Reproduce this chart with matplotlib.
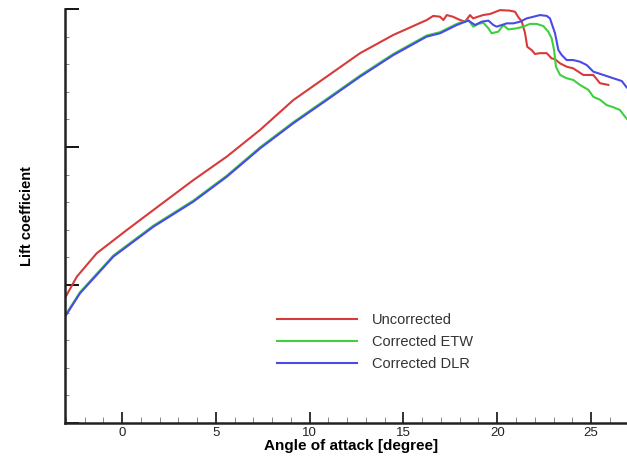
import matplotlib
matplotlib.use("Agg")
import matplotlib.pyplot as plt
from matplotlib.ticker import MultipleLocator, NullFormatter

plt.rcParams['font.family'] = ['Liberation Sans', 'DejaVu Sans']

# Uncorrected
aoa_unc = [-3.04, -2.41, -1.35, 0.25, 2.03, 3.80, 5.58, 7.36, 9.13, 10.91, 12.69, 14.46,
           16.24, 16.59, 16.95, 17.13, 17.31, 17.64, 18.02, 18.28, 18.55, 18.71, 19.24,
           19.62, 20.15, 20.68, 20.95, 21.11, 21.31, 21.48, 21.60, 21.84, 22.01, 22.28,
           22.64, 22.90, 23.08, 23.35, 23.70, 24.05, 24.59, 25.12, 25.48, 25.92]
cl_unc = [0.453, 0.530, 0.615, 0.699, 0.790, 0.880, 0.965, 1.062, 1.170, 1.255, 1.340, 1.406,
          1.460, 1.475, 1.472, 1.460, 1.478, 1.472, 1.460, 1.454, 1.478, 1.466, 1.478,
          1.482, 1.496, 1.494, 1.490, 1.472, 1.454, 1.413, 1.363, 1.351, 1.337, 1.340,
          1.340, 1.321, 1.318, 1.303, 1.291, 1.285, 1.261, 1.261, 1.231, 1.225]

# Corrected DLR
aoa_dlr = [-3.04, -2.24, -0.46, 1.67, 3.80, 5.58, 7.36, 9.13, 10.91, 12.69, 14.46, 16.24,
           16.95, 17.84, 18.46, 18.82, 19.17, 19.53, 19.79, 19.97, 20.24, 20.51, 20.86,
           21.22, 21.57, 21.93, 22.28, 22.64, 22.81, 23.08, 23.26, 23.44, 23.70, 24.05,
           24.41, 24.77, 25.12, 25.66, 26.19, 26.64, 26.90]
cl_dlr = [0.385, 0.470, 0.603, 0.711, 0.802, 0.892, 0.995, 1.086, 1.170, 1.255, 1.333, 1.400,
          1.412, 1.442, 1.458, 1.442, 1.454, 1.458, 1.442, 1.436, 1.442, 1.448, 1.448,
          1.454, 1.466, 1.472, 1.478, 1.475, 1.466, 1.412, 1.351, 1.333, 1.315, 1.315,
          1.309, 1.297, 1.273, 1.261, 1.249, 1.239, 1.216]

# Corrected ETW
aoa_etw = [-3.04, -2.24, -0.46, 1.67, 3.80, 5.58, 7.36, 9.13, 10.91, 12.69, 14.46, 16.24,
           16.95, 17.84, 18.46, 18.72, 18.99, 19.26, 19.53, 19.70, 20.06, 20.32, 20.59,
           21.04, 21.39, 21.75, 22.10, 22.46, 22.72, 22.90, 23.03, 23.13, 23.35, 23.70,
           24.05, 24.41, 24.86, 25.12, 25.48, 25.83, 26.19, 26.54, 26.81, 27.2]
cl_etw = [0.389, 0.474, 0.607, 0.715, 0.806, 0.896, 0.999, 1.090, 1.174, 1.259, 1.337, 1.404,
          1.416, 1.446, 1.460, 1.436, 1.446, 1.450, 1.430, 1.412, 1.418, 1.442, 1.426,
          1.430, 1.436, 1.446, 1.446, 1.438, 1.418, 1.394, 1.351, 1.291, 1.261, 1.249,
          1.243, 1.225, 1.207, 1.182, 1.171, 1.152, 1.144, 1.134, 1.110, 1.08]

xticks = [0, 5, 10, 15, 20, 25]
labels = ['Uncorrected', 'Corrected ETW', 'Corrected DLR']
colors = ['#d83a3a', '#3fcf3f', '#4a4ae6']

W, H = 627, 459
fig = plt.figure(figsize=(W / 100, H / 100), dpi=100)
ax_l, ax_r, ax_t, ax_b = 65, 637, 9, 423
ax = fig.add_axes([ax_l / W, (H - ax_b) / H, (ax_r - ax_l) / W, (ax_b - ax_t) / H])

ax.plot(aoa_unc, cl_unc, color=colors[0], lw=1.5, label=labels[0])
ax.plot(aoa_etw, cl_etw, color=colors[1], lw=1.5, label=labels[1])
ax.plot(aoa_dlr, cl_dlr, color=colors[2], lw=1.5, label=labels[2])

ax.set_xlim(-3.04, 27.45)
ax.set_ylim(0, 1.5)
ax.set_xticks(xticks)
ax.xaxis.set_minor_locator(MultipleLocator(1))
ax.yaxis.set_major_locator(MultipleLocator(0.5))
ax.yaxis.set_minor_locator(MultipleLocator(0.1))
ax.yaxis.set_major_formatter(NullFormatter())
ax.tick_params(axis='x', which='major', direction='in', length=8, width=1.3,
               labelsize=9.5, pad=3, colors='#222222')
ax.tick_params(axis='x', which='minor', direction='in', length=4, width=0.7, color='#888888')
ax.tick_params(axis='y', which='major', direction='in', length=10, width=1.3)
ax.tick_params(axis='y', which='minor', direction='in', length=3, width=0.7, color='#888888')
for s in ['top', 'right']:
    ax.spines[s].set_visible(False)
for s in ['left', 'bottom']:
    ax.spines[s].set_linewidth(1.8)
    ax.spines[s].set_color('#222222')

ax.set_xlabel('Angle of attack [degree]', fontsize=11, fontweight='bold', labelpad=0)
ax.set_ylabel('Lift coefficient', fontsize=10.5, fontweight='bold', labelpad=19)

leg = ax.legend(loc='upper left', bbox_to_anchor=((271 - ax_l) / (ax_r - ax_l), (ax_b - 307) / (ax_b - ax_t)),
                frameon=False, fontsize=10.5, handlelength=5.5, handletextpad=1.0,
                labelspacing=0.55, borderaxespad=0)
for t in leg.get_texts():
    t.set_color('#333333')

fig.savefig('out.png', dpi=100)
